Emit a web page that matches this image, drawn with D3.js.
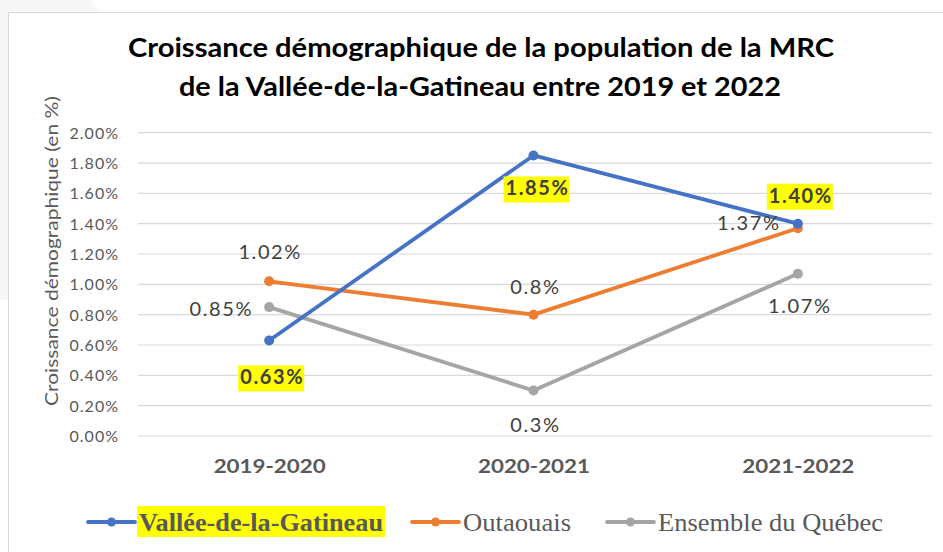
<!DOCTYPE html>
<html>
<head>
<meta charset="utf-8">
<script src="https://cdn.jsdelivr.net/npm/d3@7"></script>
<style>
  html, body { margin: 0; padding: 0; background: #f7f7f7; }
  svg { display: block; }
</style>
</head>
<body>
<svg id="chart" width="943" height="552"></svg>
<script>
// Periods and growth rates (in %)
const categories = ["2019-2020", "2020-2021", "2021-2022"];
const seriesNames = ["Vallée-de-la-Gatineau", "Outaouais", "Ensemble du Québec"];
const valleeValues = [0.63, 1.85, 1.40];
const outaouaisValues = [1.02, 0.80, 1.37];
const quebecValues = [0.85, 0.30, 1.07];
const valleeLabels = ["0.63%", "1.85%", "1.40%"];
const outaouaisLabels = ["1.02%", "0.8%", "1.37%"];
const quebecLabels = ["0.85%", "0.3%", "1.07%"];
const yTicks = [0, 0.2, 0.4, 0.6, 0.8, 1.0, 1.2, 1.4, 1.6, 1.8, 2.0];

const colors = ["#4472C4", "#ED7D31", "#A5A5A5"];
const font = "Lato, 'Open Sans', sans-serif";

const svg = d3.select("#chart");

// page backdrop and the white chart area
svg.append("polygon")
  .attr("points", "90,0 943,0 943,552 0,552 0,300 8,300 8,12 100,12")
  .attr("fill", "#ffffff");
svg.append("rect")
  .attr("x", 8.5).attr("y", 12.5).attr("width", 945).attr("height", 545)
  .attr("fill", "#ffffff").attr("stroke", "#d9d9d9").attr("stroke-width", 1);

const x = d3.scalePoint().domain(categories).range([137, 930]).padding(0.5);
const y = d3.scaleLinear().domain([0, 2]).range([436, 132.7]);

// title
const title = svg.append("text")
  .attr("text-anchor", "middle")
  .attr("font-family", font).attr("font-weight", "bold")
  .attr("font-size", 27).attr("fill", "#000");
title.append("tspan").attr("x", 481).attr("y", 57)
  .attr("textLength", 706).attr("lengthAdjust", "spacingAndGlyphs")
  .text("Croissance démographique de la population de la MRC");
title.append("tspan").attr("x", 480).attr("y", 96)
  .attr("textLength", 602).attr("lengthAdjust", "spacingAndGlyphs")
  .text("de la Vallée-de-la-Gatineau entre 2019 et 2022");

// gridlines
svg.append("g").selectAll("line").data(yTicks).join("line")
  .attr("x1", 138).attr("x2", 932)
  .attr("y1", d => y(d)).attr("y2", d => y(d))
  .attr("stroke", "#d9d9d9").attr("stroke-width", 1.2);

// y axis tick labels
const yAxis = d3.axisLeft(y).tickValues(yTicks)
  .tickFormat(d => d3.format(".2f")(d) + "%").tickSize(0).tickPadding(0);
const gy = svg.append("g").attr("transform", "translate(119,0)").call(yAxis);
gy.select(".domain").remove();
gy.selectAll("text")
  .attr("font-family", font).attr("font-size", 16).attr("fill", "#595959")
  .attr("letter-spacing", "1px")
  .attr("dy", "0.35em");

// x axis category labels
const xAxis = d3.axisBottom(x).tickSize(0).tickPadding(0);
const gx = svg.append("g").attr("transform", "translate(0,459)").call(xAxis);
gx.select(".domain").remove();
gx.selectAll("text")
  .attr("font-family", font).attr("font-weight", "bold")
  .attr("font-size", 19).attr("fill", "#595959")
  .attr("textLength", 112).attr("lengthAdjust", "spacingAndGlyphs");

// y axis title
svg.append("text")
  .attr("transform", "translate(58,251) rotate(-90)")
  .attr("text-anchor", "middle")
  .attr("font-family", font).attr("font-size", 17).attr("fill", "#595959")
  .attr("textLength", 310).attr("lengthAdjust", "spacingAndGlyphs")
  .text("Croissance démographique (en %)");

// lines and markers
const allValues = [valleeValues, outaouaisValues, quebecValues];
const line = d3.line().x((d, i) => x(categories[i])).y(d => y(d));
// grey first, then orange, then blue on top
[2, 1, 0].forEach(s => {
  const g = svg.append("g");
  g.append("path").datum(allValues[s])
    .attr("d", line).attr("fill", "none")
    .attr("stroke", colors[s]).attr("stroke-width", 3.8)
    .attr("stroke-linejoin", "round").attr("stroke-linecap", "round");
  g.selectAll("circle").data(allValues[s]).join("circle")
    .attr("cx", (d, i) => x(categories[i])).attr("cy", d => y(d))
    .attr("r", 5).attr("fill", colors[s]);
});

// data labels: offsets relative to each point
function addLabel(cat, v, text, dx, dy, anchor, highlighted) {
  const g = svg.append("g");
  const t = g.append("text")
    .attr("x", x(cat) + dx).attr("y", y(v) + dy)
    .attr("text-anchor", anchor).attr("dominant-baseline", "central")
    .attr("font-family", font).attr("font-size", 20)
    .attr("letter-spacing", "1.6px")
    .attr("font-weight", highlighted ? "bold" : "normal")
    .attr("fill", "#404040").text(text);
  if (highlighted) {
    const b = t.node().getBBox();
    g.insert("rect", "text")
      .attr("x", b.x - 2).attr("y", b.y + 1)
      .attr("width", b.width + 2).attr("height", b.height + 2)
      .attr("fill", "#ffff00");
  }
}
// Vallée-de-la-Gatineau (highlighted)
addLabel(categories[0], valleeValues[0], valleeLabels[0], 3, 36, "middle", true);
addLabel(categories[1], valleeValues[1], valleeLabels[1], 4, 32, "middle", true);
addLabel(categories[2], valleeValues[2], valleeLabels[2], 3, -29, "middle", true);
// Outaouais
addLabel(categories[0], outaouaisValues[0], outaouaisLabels[0], 1, -30, "middle", false);
addLabel(categories[1], outaouaisValues[1], outaouaisLabels[1], 2, -29, "middle", false);
addLabel(categories[2], outaouaisValues[2], outaouaisLabels[2], -49, -6, "middle", false);
// Ensemble du Québec
addLabel(categories[0], quebecValues[0], quebecLabels[0], -16, 1, "end", false);
addLabel(categories[1], quebecValues[1], quebecLabels[1], 2, 33, "middle", false);
addLabel(categories[2], quebecValues[2], quebecLabels[2], 2, 31, "middle", false);

// legend: swatch start, text start and text width for each entry
const legendItems = [
  { lx: 88, tx: 137, w: 248, bold: true },
  { lx: 412, tx: 461, w: 112, bold: false },
  { lx: 607, tx: 656, w: 229, bold: false }
];
const legend = svg.append("g");
legendItems.forEach((it, i) => {
  const g = legend.append("g");
  if (it.bold) {
    g.append("rect").attr("x", it.tx).attr("y", 506)
      .attr("width", it.w).attr("height", 31).attr("fill", "#ffff00");
  }
  g.append("line").attr("x1", it.lx).attr("x2", it.lx + 47)
    .attr("y1", 522).attr("y2", 522)
    .attr("stroke", colors[i]).attr("stroke-width", 3.8).attr("stroke-linecap", "round");
  g.append("circle").attr("cx", it.lx + 23.5).attr("cy", 522).attr("r", 4.5)
    .attr("fill", colors[i]);
  g.append("text").attr("x", it.tx + 2).attr("y", 531)
    .attr("font-family", "'Liberation Serif', 'DejaVu Serif', serif")
    .attr("font-size", 26).attr("font-weight", it.bold ? "bold" : "normal")
    .attr("fill", "#595959")
    .attr("textLength", it.w - 4).attr("lengthAdjust", "spacingAndGlyphs")
    .text(seriesNames[i]);
});
</script>
</body>
</html>
